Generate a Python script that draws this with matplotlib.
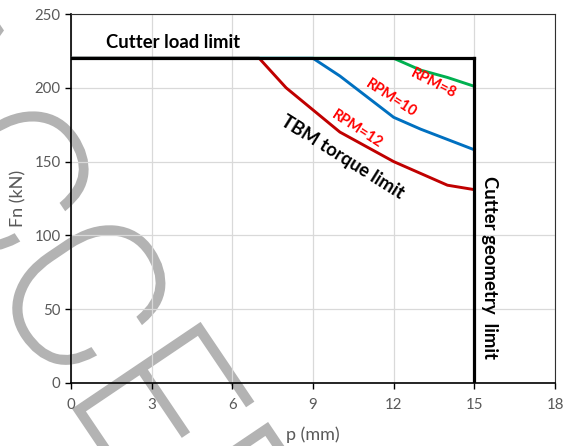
import numpy as np
import matplotlib
matplotlib.use("Agg")
import matplotlib.pyplot as plt
from matplotlib.textpath import TextPath
from matplotlib.patches import PathPatch
from matplotlib.font_manager import FontProperties
from matplotlib.transforms import Affine2D, IdentityTransform

plt.rcParams["font.family"] = ["Lato", "DejaVu Sans"]

# penetration (mm) and normal force (kN) for each RPM curve
p = [0, 1, 2, 3, 4, 5, 6, 7, 8, 9, 10, 11, 12, 13, 14, 15]
fn_rpm12 = [220, 220, 220, 220, 220, 220, 220, 220, 200, 185, 170, 160, 150, 142, 134, 131]
fn_rpm10 = [220, 220, 220, 220, 220, 220, 220, 220, 220, 220, 208, 194, 180, 172, 165, 158]
fn_rpm8 = [220, 220, 220, 220, 220, 220, 220, 220, 220, 220, 220, 220, 220, 212, 207, 201]

load_limit = 220      # kN
geometry_limit = 15   # mm

x_ticks = [0, 3, 6, 9, 12, 15, 18]
y_ticks = [0, 50, 100, 150, 200, 250]

fig = plt.figure(figsize=(5.66, 4.46), dpi=100)
ax = fig.add_axes([0.1254, 0.1413, 0.8552, 0.8273])
ax.patch.set_facecolor("none")

# "ACCEPTED" watermark behind the chart, anchored on the top-left corner of the E
fp = FontProperties(family="Roboto", weight="light")
size = 212
word = TextPath((0, 0), "ACCEPTED", size=size, prop=fp)
e_ext = TextPath((0, 0), "E", size=size, prop=fp).get_extents()
acce_ext = TextPath((0, 0), "ACCE", size=size, prop=fp).get_extents()
ex = acce_ext.x1 - e_ext.width
ey = e_ext.y1
tr = Affine2D().translate(-ex, -ey).rotate_deg(-56).translate(200, 446 - 325)
wm = PathPatch(tr.transform_path(word), facecolor="#b3b3b3", edgecolor="#b3b3b3",
               lw=3.2, joinstyle="miter", transform=IdentityTransform(), zorder=-1)
fig.add_artist(wm)

# curves
ax.plot(p, fn_rpm8, color="#00B050", lw=2.1, zorder=3)
ax.plot(p, fn_rpm10, color="#0070C0", lw=2.1, zorder=3)
ax.plot(p, fn_rpm12, color="#C00000", lw=2.1, zorder=3)

# limits
ax.plot([0, geometry_limit], [load_limit, load_limit], color="black", lw=2.3, zorder=4)
ax.plot([geometry_limit, geometry_limit], [0, load_limit], color="black", lw=2.3, zorder=4)

ax.set_xlim(0, 18)
ax.set_ylim(0, 250)
ax.set_xticks(x_ticks)
ax.set_yticks(y_ticks)
ax.grid(True, color="#d9d9d9", lw=0.9, zorder=0)
ax.set_axisbelow(True)

for s in ["left", "bottom"]:
    ax.spines[s].set_color("black")
    ax.spines[s].set_linewidth(1.2)
for s in ["top", "right"]:
    ax.spines[s].set_color("#303030")
    ax.spines[s].set_linewidth(0.8)

ax.tick_params(direction="out", length=4, width=1, color="black",
               labelcolor="#595959", labelsize=10.8)
ax.tick_params(axis="x", pad=7)

ax.set_xlabel("p (mm)", color="#595959", fontsize=13, labelpad=10)
ax.set_ylabel("Fn (kN)", color="#595959", fontsize=13, labelpad=6)

# annotations
ax.text(1.3, 230.5, "Cutter load limit", fontsize=13.3, fontweight="bold",
        ha="left", va="center")
ax.text(10.1, 153, "TBM torque limit", fontsize=13.3, fontweight="bold",
        rotation=-32, ha="center", va="center")
ax.text(15.55, 78, "Cutter geometry  limit", fontsize=13.3, fontweight="bold",
        rotation=-90, ha="center", va="center")
ax.text(10.63, 172, "RPM=12", fontsize=10.5, fontweight="bold", color="red",
        rotation=-33, ha="center", va="center")
ax.text(11.92, 192.7, "RPM=10", fontsize=10.5, fontweight="bold", color="red",
        rotation=-33, ha="center", va="center")
ax.text(13.5, 203, "RPM=8", fontsize=10.5, fontweight="bold", color="red",
        rotation=-27, ha="center", va="center")

fig.savefig("out.png", dpi=100)
